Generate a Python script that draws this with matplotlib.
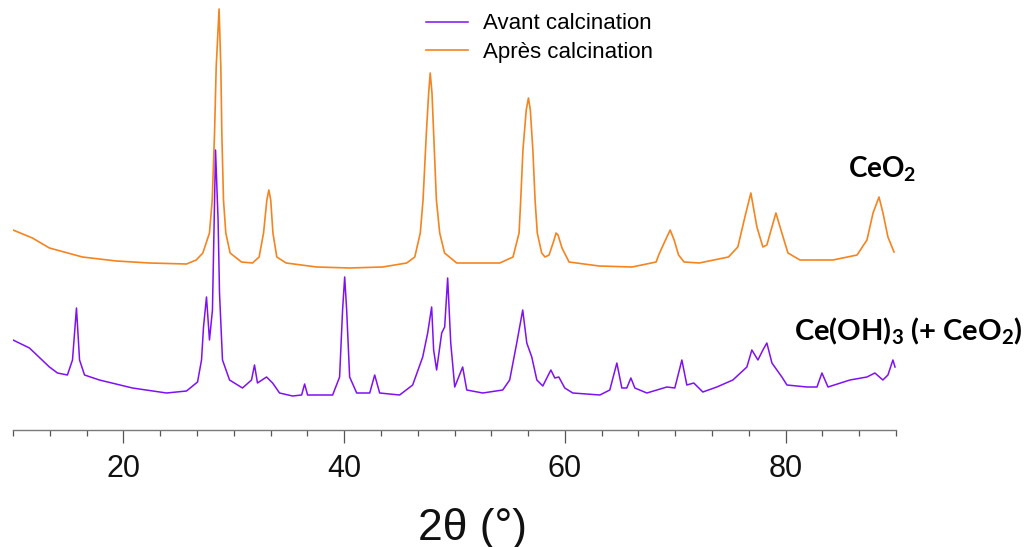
import matplotlib
matplotlib.use("Agg")
import matplotlib.pyplot as plt
from matplotlib.ticker import MultipleLocator

# 2theta (deg) and intensity (arb. units, height above the axis line)
apres_x = [10.0, 11.76, 13.30, 16.29, 19.37, 22.37, 25.72, 26.60, 27.20, 27.80,
           28.05, 28.26, 28.41, 28.67, 28.83, 28.92, 29.07, 29.28, 29.67, 30.70,
           31.70, 32.30, 32.70, 33.00, 33.18, 33.35, 33.55, 33.90, 34.75, 37.51,
           40.50, 43.49, 45.67, 46.40, 46.90, 47.15, 47.45, 47.66, 47.80, 47.96,
           48.11, 48.36, 48.66, 49.10, 50.20, 54.10, 55.30, 55.85, 56.00, 56.20,
           56.50, 56.70, 56.87, 57.10, 57.30, 57.50, 57.90, 58.20, 58.57, 59.02,
           59.20, 59.38, 59.74, 60.38, 63.10, 66.09, 68.27, 68.50, 68.99, 69.54,
           69.90, 70.30, 70.80, 72.17, 74.82, 75.67, 76.31, 76.85, 77.40, 77.94,
           78.30, 78.76, 79.12, 79.66, 80.21, 81.30, 84.29, 86.47, 87.37, 87.92,
           88.46, 88.82, 89.27, 89.82]
apres_y = [200, 192, 182, 173, 169, 167, 166, 170, 177, 197,
           230, 297, 363, 421, 363, 297, 230, 197, 177, 168,
           167, 173, 197, 230, 240, 230, 197, 173, 167, 163,
           162, 163, 167, 173, 197, 230, 297, 337, 357, 337,
           297, 230, 197, 177, 167, 167, 173, 197, 230, 280,
           320, 332, 320, 280, 230, 197, 177, 173, 175, 190,
           197, 195, 182, 168, 164, 163, 168, 175, 187, 200,
           190, 175, 168, 167, 173, 183, 213, 237, 203, 183,
           185, 203, 217, 197, 177, 170, 170, 175, 190, 217,
           233, 217, 193, 178]

avant_x = [10.0, 11.49, 13.30, 14.03, 14.93, 15.39, 15.75, 16.03, 16.48, 17.83,
           20.82, 23.91, 25.72, 26.72, 27.08, 27.26, 27.53, 27.80, 28.07, 28.35,
           28.58, 28.71, 28.98, 29.62, 30.79, 31.61, 31.88, 32.15, 32.97, 33.52,
           34.15, 35.33, 36.15, 36.42, 36.69, 38.96, 39.59, 39.86, 40.05, 40.23,
           40.50, 41.14, 42.32, 42.77, 43.22, 45.03, 46.21, 47.12, 47.57, 47.93,
           48.11, 48.38, 48.84, 49.11, 49.38, 49.66, 50.02, 50.74, 51.11, 52.56,
           54.37, 55.00, 55.64, 56.18, 56.55, 57.00, 57.46, 58.00, 58.73, 59.09,
           59.45, 59.99, 60.72, 63.17, 64.07, 64.71, 65.16, 65.61, 65.98, 66.34,
           67.43, 69.24, 69.96, 70.60, 71.05, 71.68, 72.50, 73.77, 75.22, 76.49,
           76.94, 77.49, 77.94, 78.30, 78.76, 79.21, 79.66, 80.12, 81.93, 82.84,
           83.29, 83.84, 85.83, 87.37, 88.09, 88.81, 89.27, 89.72, 89.91]
avant_y = [90, 82, 63, 57, 55, 70, 122, 70, 55, 50,
           42, 37, 39, 48, 70, 103, 133, 90, 120, 280,
           210, 137, 70, 50, 42, 50, 65, 47, 53, 47,
           37, 34, 35, 46, 35, 35, 53, 120, 153, 120,
           53, 37, 37, 55, 37, 35, 45, 73, 97, 123,
           80, 60, 97, 103, 152, 87, 43, 63, 40, 37,
           40, 50, 87, 120, 87, 73, 50, 44, 60, 52,
           53, 42, 37, 35, 40, 67, 42, 42, 52, 42,
           37, 43, 42, 70, 45, 47, 38, 43, 50, 63,
           80, 70, 80, 87, 67, 60, 53, 45, 43, 43,
           57, 43, 50, 53, 57, 50, 55, 70, 63]

labels = ["Avant calcination", "Après calcination"]
colors = ["#7F10F5", "#F5841F"]

plt.rcParams['font.family'] = ['Liberation Sans', 'DejaVu Sans']
plt.rcParams['mathtext.default'] = 'regular'

fig = plt.figure(figsize=(10.34, 5.47), dpi=100)
ax = fig.add_axes([13 / 1034, 1 - 430 / 547, 883 / 1034, 430 / 547])

ax.plot(apres_x, apres_y, color=colors[1], lw=1.2, label=labels[1], zorder=2)
ax.plot(avant_x, avant_y, color=colors[0], lw=1.1, label=labels[0], zorder=3)

ax.set_xlim(10, 90)
ax.set_ylim(0, 430)

for s in ['top', 'right', 'left']:
    ax.spines[s].set_visible(False)
ax.spines['bottom'].set_color('#7a7a7a')
ax.spines['bottom'].set_linewidth(1.0)
ax.set_yticks([])
ax.xaxis.set_minor_locator(MultipleLocator(10 / 3))
ax.set_xticks([20, 40, 60, 80])
ax.tick_params(axis='x', which='major', length=9, width=0.9, color='#555555',
               labelsize=22, pad=8, labelcolor='#111111')
ax.tick_params(axis='x', which='minor', length=4.5, width=0.9, color='#555555')

fig.text(472 / 1034, 1 - 540 / 547, "2θ (°)", ha='center', va='baseline',
         fontsize=32, color='#111111')

handles, labs = ax.get_legend_handles_labels()
order = [1, 0]
ax.legend([handles[i] for i in order], [labs[i] for i in order],
          loc='upper left', bbox_to_anchor=(410 / 1034, 1.004),
          bbox_transform=fig.transFigure, frameon=False, fontsize=16,
          handlelength=1.9, handletextpad=0.7, labelspacing=0.35,
          borderaxespad=0.3)

fig.text(848 / 1034, 1 - 177 / 547, r"CeO$_\mathregular{2}$", fontsize=20,
         fontweight='bold', family=['Lato', 'DejaVu Sans'], va='baseline',
         ha='left')
fig.text(794 / 1034, 1 - 340 / 547, r"Ce(OH)$_\mathregular{3}$ (+ CeO$_\mathregular{2}$)",
         fontsize=21, fontweight='bold', family=['Lato', 'DejaVu Sans'],
         va='baseline', ha='left')

fig.savefig("out.png", dpi=100)
